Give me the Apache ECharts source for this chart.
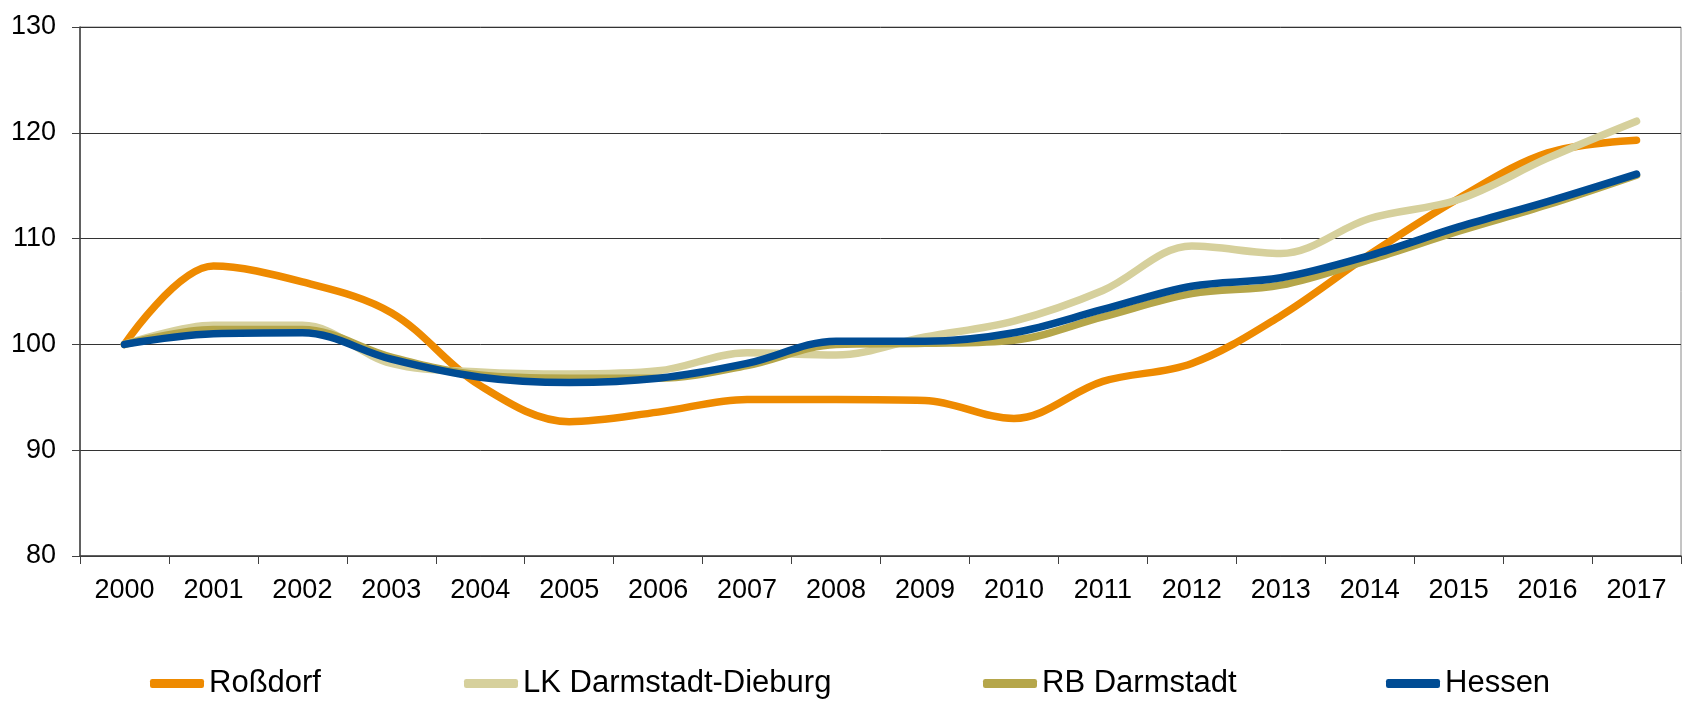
<!DOCTYPE html>
<html>
<head>
<meta charset="utf-8">
<script src="https://cdn.jsdelivr.net/npm/echarts@6/dist/echarts.min.js"></script>
<style>
  html, body { margin: 0; padding: 0; background: #fff; }
  #chart { width: 1684px; height: 710px; }
</style>
</head>
<body>
<div id="chart"></div>
<script>
// Index values (2000 = 100)
const years = ['2000','2001','2002','2003','2004','2005','2006','2007','2008',
               '2009','2010','2011','2012','2013','2014','2015','2016','2017'];
const rossdorf = [100, 107.4, 105.9, 103.0, 96.1, 92.7, 93.6, 94.8, 94.8,
                  94.7, 93.0, 96.5, 98.2, 102.7, 108.5, 113.8, 118.1, 119.3];
const lkDarmstadtDieburg = [100, 101.8, 101.8, 98.2, 97.4, 97.2, 97.5, 99.2, 99.0,
                            100.7, 102.2, 105.1, 109.3, 108.6, 111.9, 113.7, 117.6, 121.1];
const rbDarmstadt = [100, 101.4, 101.4, 98.8, 97.1, 96.8, 96.8, 98.0, 100.0,
                     100.1, 100.4, 102.6, 104.8, 105.6, 108.0, 110.7, 113.2, 116.0];
const hessen = [100, 101.0, 101.1, 98.6, 96.9, 96.4, 96.8, 98.2, 100.3,
                100.3, 101.1, 103.3, 105.5, 106.3, 108.4, 111.1, 113.5, 116.1];

const seriesNames = ['Roßdorf', 'LK Darmstadt-Dieburg', 'RB Darmstadt', 'Hessen'];
const seriesData = [rossdorf, lkDarmstadtDieburg, rbDarmstadt, hessen];
const colors = ['#EE8A00', '#D6D09C', '#B5A64A', '#004C94'];
const legendLeft = [150, 464, 983, 1386];

const font = '"Liberation Sans Narrow", "Liberation Sans", Arial, sans-serif';

const chart = echarts.init(document.getElementById('chart'));
chart.setOption({
  animation: false,
  backgroundColor: '#fff',
  grid: {
    left: 80, right: 3, top: 27, bottom: 154,
    show: true, borderColor: '#8a8a8a', borderWidth: 1
  },
  legend: seriesNames.map((name, i) => ({
    data: [name],
    left: legendLeft[i],
    top: 668,
    padding: 0,
    itemWidth: 54,
    itemHeight: 9,
    itemGap: 4,
    icon: 'roundRect',
    textStyle: { fontFamily: font, fontSize: 31, color: '#000', padding: [0, 0, 0, 0] }
  })),
  xAxis: {
    type: 'category',
    data: years,
    boundaryGap: true,
    axisLine: { lineStyle: { color: '#404040', width: 1.5 } },
    axisTick: { show: true, length: 8, lineStyle: { color: '#404040' } },
    axisLabel: { fontFamily: font, fontSize: 27, color: '#000', margin: 21 }
  },
  yAxis: {
    type: 'value',
    min: 80, max: 130, interval: 10,
    axisLine: { show: true, lineStyle: { color: '#404040', width: 1.5 } },
    axisTick: { show: true, length: 8, lineStyle: { color: '#404040' } },
    axisLabel: { fontFamily: font, fontSize: 27, color: '#000', margin: 24 },
    splitLine: { lineStyle: { color: '#333', width: 1 } }
  },
  series: seriesNames.map((name, i) => ({
    name: name,
    type: 'line',
    data: seriesData[i],
    smooth: 0.35,
    symbol: 'none',
    color: colors[i],
    lineStyle: { color: colors[i], width: 7.5, cap: 'round', join: 'round' }
  }))
});
</script>
</body>
</html>
